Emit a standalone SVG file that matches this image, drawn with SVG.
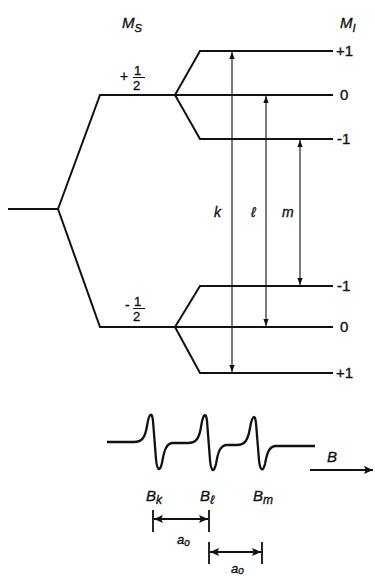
<svg xmlns="http://www.w3.org/2000/svg" width="375" height="576" viewBox="0 0 375 576">
<style>
.lv{fill:none;stroke:#111;stroke-width:2;stroke-linejoin:miter}
.ar{fill:none;stroke:#111;stroke-width:1.1}
.t{font-family:"Liberation Sans","DejaVu Sans",sans-serif;fill:#111;stroke:#111;stroke-width:0.35}
.it{font-style:italic}
.dim{fill:none;stroke:#111;stroke-width:1.8}
</style>
<defs>
<marker id="ah" viewBox="0 0 10 10" refX="10" refY="5" markerWidth="7" markerHeight="7" markerUnits="userSpaceOnUse" orient="auto-start-reverse">
<path d="M0,1.2 L10,5 L0,8.8 z" fill="#111"/>
</marker>
<marker id="dh" viewBox="0 0 10 10" refX="10" refY="5" markerWidth="11" markerHeight="9" markerUnits="userSpaceOnUse" orient="auto-start-reverse">
<path d="M0,0.5 L10,5 L0,9.5 L2,5 z" fill="#111"/>
</marker>
</defs>
<g id="levels">
<path class="lv" d="M8,209 L58,209 M58,209 L100,95 L175,95 M58,209 L100,327 L175,327"/>
<path class="lv" d="M175,95 L200,51 L333,51 M175,95 L333,95 M175,95 L200,139 L333,139"/>
<path class="lv" d="M175,327 L200,286 L333,286 M175,327 L333,327 M175,327 L200,373 L333,373"/>
</g>
<g id="labels">
<text class="t it" x="122" y="28" font-size="15">M<tspan font-size="11" dy="4">S</tspan></text>
<text class="t it" x="340" y="28" font-size="15">M<tspan font-size="11" dy="4">I</tspan></text>
<text class="t" x="120" y="81" font-size="14">+</text>
<text class="t" x="134" y="75" font-size="13">1</text>
<line x1="133" y1="77.5" x2="145" y2="77.5" stroke="#111" stroke-width="1"/>
<text class="t" x="133" y="90" font-size="13">2</text>
<text class="t" x="125" y="310" font-size="14">-</text>
<text class="t" x="134" y="306" font-size="13">1</text>
<line x1="133" y1="308.5" x2="145" y2="308.5" stroke="#111" stroke-width="1"/>
<text class="t" x="133" y="321" font-size="13">2</text>
<text class="t" x="336" y="56" font-size="15">+1</text>
<text class="t" x="340" y="100" font-size="15">0</text>
<text class="t" x="337" y="144" font-size="15">-1</text>
<text class="t" x="337" y="291" font-size="15">-1</text>
<text class="t" x="340" y="332" font-size="15">0</text>
<text class="t" x="336" y="378" font-size="15">+1</text>
<text class="t it" x="214" y="217" font-size="14">k</text>
<text class="t it" x="251" y="217" font-size="14">ℓ</text>
<text class="t it" x="282" y="217" font-size="14">m</text>
</g>
<g id="connectors">
<line class="ar" x1="232" y1="52" x2="232" y2="372" marker-start="url(#ah)" marker-end="url(#ah)"/>
<line class="ar" x1="266" y1="96" x2="266" y2="326" marker-start="url(#ah)" marker-end="url(#ah)"/>
<line class="ar" x1="300" y1="140" x2="300" y2="285" marker-start="url(#ah)" marker-end="url(#ah)"/>
</g>
<g id="spectrum">
<path fill="none" stroke="#111" stroke-width="2.3" stroke-linejoin="round" d="M107,442 L134,442 C142,442 145,438 147,426 C149,413 152,411 153,421 L156,459 C157,471 160,472 162,463 C164,451 166,444 172,443 L188,443 C196,443 199,439 201,427 C203,414 206,411 207,421 L210,460 C211,472 214,473 216,464 C218,452 220,446 226,445 L237,445 C245,445 248,440 250,428 C252,416 255,413 256,423 L259,460 C260,471 263,472 265,464 C267,453 269,447 275,446 L315,446"/>
<line x1="310" y1="470" x2="373" y2="470" stroke="#111" stroke-width="1.8" marker-end="url(#dh)"/>
<text class="t it" x="327" y="462" font-size="15">B</text>
<text class="t it" x="146" y="501" font-size="15">B<tspan font-size="12" dy="3">k</tspan></text>
<text class="t it" x="200" y="501" font-size="15">B<tspan font-size="12" dy="3">ℓ</tspan></text>
<text class="t it" x="253" y="501" font-size="15">B<tspan font-size="12" dy="3">m</tspan></text>
</g>
<g id="dimensions">
<path class="dim" d="M153,510 L153,532 M209,510 L209,532 M209,542 L209,564 M262,542 L262,564"/>
<line x1="154" y1="519" x2="208" y2="519" stroke="#111" stroke-width="1.8" marker-start="url(#dh)" marker-end="url(#dh)"/>
<line x1="210" y1="552" x2="261" y2="552" stroke="#111" stroke-width="1.8" marker-start="url(#dh)" marker-end="url(#dh)"/>
<text class="t it" x="177" y="544" font-size="13">a<tspan font-size="10" dy="2">o</tspan></text>
<text class="t it" x="231" y="573" font-size="13">a<tspan font-size="10" dy="1">o</tspan></text>
</g>
</svg>
